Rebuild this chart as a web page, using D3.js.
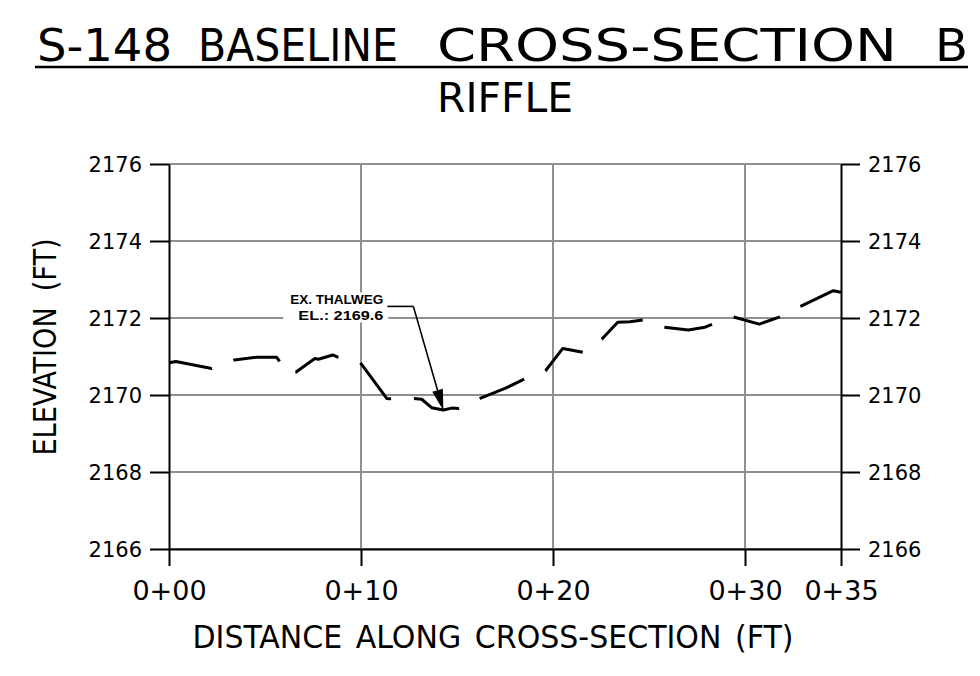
<!DOCTYPE html>
<html>
<head>
<meta charset="utf-8">
<script src="https://cdn.jsdelivr.net/npm/d3@7/dist/d3.min.js"></script>
<style>
  html, body { margin: 0; padding: 0; background: #ffffff; }
  svg { display: block; }
</style>
</head>
<body>
<svg id="chart" width="980" height="676"></svg>
<script>
// ---------------- DATA ----------------
const titleText = "S-148 BASELINE CROSS-SECTION B";
const subtitleText = "RIFFLE";
const xAxisTitle = "DISTANCE ALONG CROSS-SECTION (FT)";
const yAxisTitle = "ELEVATION (FT)";

// station (ft) along cross-section
const station = [0, 0.36, 2.22, 3.40, 4.57, 5.61, 5.78, 5.99, 6.60, 7.60, 7.78, 8.53, 8.82,
  9.95, 11.34, 11.51, 12.76, 13.16, 13.68, 14.29, 14.72, 15.10, 16.20, 17.50, 18.54,
  19.61, 20.51, 21.55, 22.54, 23.37, 24.01, 24.70, 25.80, 27.05, 27.92, 28.30, 29.39,
  30.74, 31.82, 32.92, 34.60, 35.00];
// existing ground elevation (ft)
const elevation = [2170.84, 2170.87, 2170.69, 2170.91, 2170.98, 2170.98, 2170.86, 2170.60, 2170.59,
  2170.95, 2170.93, 2171.04, 2170.98, 2170.85, 2169.91, 2169.90, 2169.91, 2169.89, 2169.67,
  2169.61, 2169.66, 2169.65, 2169.91, 2170.17, 2170.42, 2170.63, 2171.21, 2171.11, 2171.45,
  2171.89, 2171.90, 2171.95, 2171.76, 2171.69, 2171.76, 2171.84, 2172.03, 2171.84, 2172.03,
  2172.31, 2172.71, 2172.67];

const xTicks = [0, 10, 20, 30, 35];
const xTickLabels = ["0+00", "0+10", "0+20", "0+30", "0+35"];
const xGrid = [10, 20, 30];
const yTicks = [2166, 2168, 2170, 2172, 2174, 2176];
const yTickLabels = ["2166", "2168", "2170", "2172", "2174", "2176"];

const thalwegStation = 14.29;
const thalwegElev = 2169.6;
const thalwegLabel = ["EX. THALWEG", "EL.: 2169.6"];

// ---------------- CHART ----------------
const svg = d3.select("#chart");
const W = 980, H = 676;
svg.append("rect").attr("width", W).attr("height", H).attr("fill", "#fff");

const x = d3.scaleLinear().domain([0, 35]).range([169, 841]);
const y = d3.scaleLinear().domain([2166, 2176]).range([549, 164]);

const gridColor = "#8f8f8f";
const cadFont = "'DejaVu Sans Condensed', 'Liberation Sans Narrow', 'DejaVu Sans', sans-serif";
const numFont = "'DejaVu Sans', sans-serif";

// grid
const grid = svg.append("g");
grid.selectAll("line.h").data(yTicks).join("line")
  .attr("x1", x(0)).attr("x2", x(35))
  .attr("y1", d => y(d)).attr("y2", d => y(d))
  .attr("stroke", gridColor).attr("stroke-width", 2);
grid.selectAll("line.v").data(xGrid).join("line")
  .attr("x1", d => x(d)).attr("x2", d => x(d))
  .attr("y1", y(2176)).attr("y2", y(2166))
  .attr("stroke", gridColor).attr("stroke-width", 2);

// axes
function styleAxis(g) {
  g.selectAll("path.domain").attr("stroke", "#000").attr("stroke-width", 2);
  g.selectAll(".tick line").attr("stroke", "#000").attr("stroke-width", 2);
  g.selectAll(".tick text").attr("fill", "#000");
}
const fmtY = d => yTickLabels[yTicks.indexOf(d)];
const fmtX = d => xTickLabels[xTicks.indexOf(d)];

const gl = svg.append("g").attr("transform", `translate(${x(0)},0)`)
  .call(d3.axisLeft(y).tickValues(yTicks).tickFormat(fmtY).tickSize(19).tickSizeOuter(0).tickPadding(8));
const gr = svg.append("g").attr("transform", `translate(${x(35)},0)`)
  .call(d3.axisRight(y).tickValues(yTicks).tickFormat(fmtY).tickSize(19).tickSizeOuter(0).tickPadding(8));
[gl, gr].forEach(g => {
  styleAxis(g);
  g.selectAll(".tick text").attr("font-family", numFont).attr("font-size", 21).attr("dy", "0.36em");
});
const gb = svg.append("g").attr("transform", `translate(0,${y(2166)})`)
  .call(d3.axisBottom(x).tickValues(xTicks).tickFormat(fmtX).tickSize(17).tickSizeOuter(0).tickPadding(8));
styleAxis(gb);
gb.selectAll(".tick text").attr("font-family", numFont).attr("font-size", 27).attr("dy", "0.95em");

// ground line (dashed)
const line = d3.line().x((d, i) => x(station[i])).y((d, i) => y(elevation[i]));
svg.append("path")
  .attr("d", line(station))
  .attr("fill", "none")
  .attr("stroke", "#000")
  .attr("stroke-width", 3)
  .attr("stroke-linejoin", "round")
  .attr("stroke-dasharray", "48.6,22.9")
  .attr("stroke-dashoffset", 4.9);

// thalweg annotation
const tipX = x(thalwegStation), tipY = y(thalwegElev);
const elbowX = tipX - 30, elbowY = tipY - 104;
const textRight = elbowX - 30;
const ann = svg.append("g");
ann.append("rect")
  .attr("x", textRight - 100).attr("y", elbowY - 14)
  .attr("width", 105).attr("height", 30).attr("fill", "#fff");
ann.append("line")
  .attr("x1", textRight + 4).attr("x2", elbowX).attr("y1", elbowY).attr("y2", elbowY)
  .attr("stroke", "#000").attr("stroke-width", 1.6);
const ang = Math.atan2(tipY - elbowY, tipX - elbowX);
const headLen = 21, headW = 5.5;
const bx = tipX - headLen * Math.cos(ang), by = tipY - headLen * Math.sin(ang);
ann.append("line")
  .attr("x1", elbowX).attr("y1", elbowY).attr("x2", bx).attr("y2", by)
  .attr("stroke", "#000").attr("stroke-width", 1.6);
ann.append("path")
  .attr("d", `M${tipX},${tipY}L${bx + headW * Math.sin(ang)},${by - headW * Math.cos(ang)}L${bx - headW * Math.sin(ang)},${by + headW * Math.cos(ang)}Z`)
  .attr("fill", "#000");
ann.selectAll("text").data(thalwegLabel).join("text")
  .attr("x", textRight).attr("y", (d, i) => elbowY - 2 + i * 15.5)
  .attr("text-anchor", "end")
  .attr("font-family", "'Liberation Sans', Arial, sans-serif")
  .attr("font-size", 13.5).attr("font-weight", 600)
  .attr("textLength", (d, i) => i === 0 ? 93 : 85).attr("lengthAdjust", "spacingAndGlyphs")
  .text(d => d);

// titles: each word placed across the title block width
const titleWords = titleText.split(" ");
const titleWordBox = [[37, 135], [198, 200], [437, 460], [935, 33]]; // layout: [left, width]
svg.append("g").selectAll("text").data(titleWords).join("text")
  .attr("x", (d, i) => titleWordBox[i][0]).attr("y", 61)
  .attr("font-family", cadFont).attr("font-size", 44)
  .attr("textLength", (d, i) => titleWordBox[i][1]).attr("lengthAdjust", "spacingAndGlyphs")
  .text(d => d);
svg.append("line").attr("x1", 35).attr("x2", 968).attr("y1", 67).attr("y2", 67)
  .attr("stroke", "#000").attr("stroke-width", 2.5);
svg.append("text")
  .attr("x", 505).attr("y", 112)
  .attr("text-anchor", "middle")
  .attr("font-family", cadFont).attr("font-size", 41)
  .attr("textLength", 136).attr("lengthAdjust", "spacingAndGlyphs")
  .text(subtitleText);

svg.append("text")
  .attr("x", 493).attr("y", 648)
  .attr("text-anchor", "middle")
  .attr("font-family", cadFont).attr("font-size", 32)
  .attr("word-spacing", 4)
  .attr("textLength", 601).attr("lengthAdjust", "spacingAndGlyphs")
  .text(xAxisTitle);
svg.append("text")
  .attr("transform", "translate(56,347) rotate(-90)")
  .attr("text-anchor", "middle")
  .attr("font-family", cadFont).attr("font-size", 32)
  .attr("word-spacing", 8)
  .attr("textLength", 217).attr("lengthAdjust", "spacingAndGlyphs")
  .text(yAxisTitle);
</script>
</body>
</html>
